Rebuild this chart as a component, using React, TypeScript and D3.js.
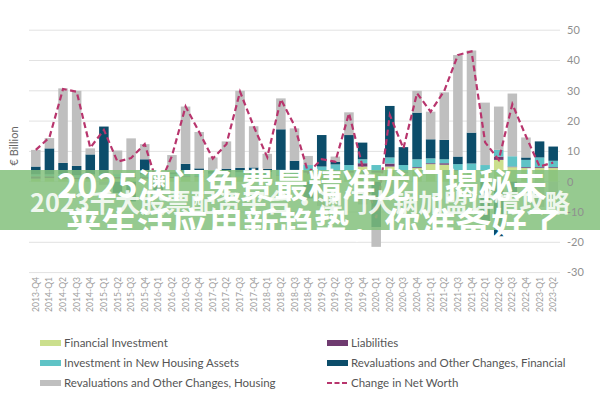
import React from "react";
import * as d3 from "d3";

const quarters = [
  "2013-Q4", "2014-Q1", "2014-Q2", "2014-Q3", "2014-Q4", "2015-Q1", "2015-Q2", "2015-Q3", "2015-Q4",
  "2016-Q1", "2016-Q2", "2016-Q3", "2016-Q4", "2017-Q1", "2017-Q2", "2017-Q3", "2017-Q4",
  "2018-Q1", "2018-Q2", "2018-Q3", "2018-Q4", "2019-Q1", "2019-Q2", "2019-Q3", "2019-Q4",
  "2020-Q1", "2020-Q2", "2020-Q3", "2020-Q4", "2021-Q1", "2021-Q2", "2021-Q3", "2021-Q4",
  "2022-Q1", "2022-Q2", "2022-Q3", "2022-Q4", "2023-Q1", "2023-Q2",
];

const financialInvestment = [
  1.0, 1.2, 1.0, 0.8, 1.0, 1.0, 1.0, 1.2, 1.0, 1.0, 1.2, 1.5, 1.5, 1.2, 1.5, 1.5, 1.5, 1.5, 2.0, 2.0,
  3.0, 2.5, 3.0, 3.0, 5.0, 3.0, 5.0, 2.8, 4.5, 5.8, 5.6, 3.5, 3.5, 2.5, 7.2, 4.8, 4.5, 4.5, 4.5,
];
const liabilities = [
  0.8, 0.6, 0.8, 0.6, 0.7, 0.5, 0.6, 0.4, 0.5, 0.4, 0.4, 0.3, 0.3, 0.2, 0.3, 0.2, 0.2, 0.1, 0.2, 0.1,
  0.5, 0.5, 0.5, 0.5, 1.1, 0.5, 1.0, 0.3, 0.3, 0.3, 0.5, 0.3, 0.3, 0.3, 1.1, 0.2, 0.3, 0.3, 0.3,
];
const investmentHousing = [
  0.6, 0.6, 0.7, 0.7, 0.7, 0.8, 0.9, 0.9, 0.9, 1.0, 1.0, 1.1, 1.1, 1.2, 1.3, 1.4, 1.5, 1.6, 1.7, 1.8,
  2.0, 2.0, 2.2, 2.0, 1.3, 2.0, 2.0, 2.4, 2.6, 1.6, 1.3, 2.0, 2.2, 2.7, 2.2, 3.4, 2.4, 3.2, 2.1,
];
const revalFinancial = [
  2.6, 8.6, 3.7, 3.1, 6.6, 15.9, -3.7, -6.5, 5.0, -5.0, 0.5, 3.0, 1.5, 1.0, 1.2, 1.5, 1.5, 1.0, 13.4, 3.0,
  -5.5, 10.4, 0.8, 9.9, 5.5, -15.0, 17.0, 5.9, 15.4, 6.3, 6.4, 2.5, 10.2, -13.0, -18.0, -3.5, 0.8, 5.3, 4.7,
];
const revalHousing = [
  5.5, 3.4, 24.6, 24.8, 2.0, -1.0, 7.8, 11.8, 5.0, 0.7, 5.7, 18.9, 12.0, 4.4, 9.0, 25.4, 13.6, 5.0, 10.2, 10.7,
  3.0, -8.0, 1.8, 7.5, -7.5, -6.5, -3.0, 0.0, 7.2, 9.1, 15.7, 33.5, 27.1, 20.6, 14.3, 20.7, 6.6, -8.3, -5.3,
];
const netWorthChange = [
  10.5, 14.6, 30.6, 29.7, 11.2, 17.1, 6.6, 7.8, 12.4, -1.9, 8.5, 24.8, 16.4, 7.6, 12.4, 29.7, 18.3, 8.1, 27.2, 18.5,
  3.0, 7.4, 6.6, 22.6, 5.0, -12.0, 22.0, 11.0, 29.2, 23.1, 30.0, 41.8, 43.0, 13.0, 7.2, 25.6, 15.0, 5.0, 6.3,
];

const yTicks = [50, 40, 30, 20, 10, 0, -10, -20, -30];

const seriesKeys = ["fi", "liab", "iha", "rf", "rh"];
const seriesNames = [
  "Financial Investment",
  "Liabilities",
  "Investment in New Housing Assets",
  "Revaluations and Other Changes, Financial",
  "Revaluations and Other Changes, Housing",
];
const seriesColors = ["#cbdf8d", "#6f3b70", "#5fc3c6", "#0c4d6a", "#bfbfbf"];
const lineName = "Change in Net Worth";
const lineColor = "#b8356d";

const bannerLine1 = "2025澳门免费最精准龙门揭秘未";
const bannerLine2 = "来生活应用新趋势，你准备好了";
const bannerMiddle = "2023千大股票配资平台·澳门大锅加盟详情攻略";

export default function App() {
  const W = 600;
  const H = 400;
  const x0 = 29;
  const x1 = 560;

  const x = d3.scaleBand<string>().domain(quarters).range([x0, x1]).paddingInner(0.3).paddingOuter(0.15);
  const y = d3.scaleLinear().domain([-30, 50]).range([272.6, 30.2]);

  const table = quarters.map((q, i) => ({
    q,
    fi: financialInvestment[i],
    liab: liabilities[i],
    iha: investmentHousing[i],
    rf: revalFinancial[i],
    rh: revalHousing[i],
  }));

  const stacked = d3
    .stack<any>()
    .keys(seriesKeys)
    .offset(d3.stackOffsetDiverging)(table);

  const line = d3
    .line<number>()
    .x((_, i) => (x(quarters[i]) as number) + x.bandwidth() / 2)
    .y((d) => y(d));

  const font = "Lato, 'Open Sans', sans-serif";
  const cjk = "'Noto Sans CJK SC', sans-serif";

  const legendItems = [
    { name: seriesNames[0], color: seriesColors[0], col: 0, row: 0 },
    { name: seriesNames[1], color: seriesColors[1], col: 1, row: 0 },
    { name: seriesNames[2], color: seriesColors[2], col: 0, row: 1 },
    { name: seriesNames[3], color: seriesColors[3], col: 1, row: 1 },
    { name: seriesNames[4], color: seriesColors[4], col: 0, row: 2 },
  ];
  const colX = [40, 327];
  const rowY = [343, 363, 383];

  return (
    <svg
      width={W}
      height={H}
      viewBox={`0 0 ${W} ${H}`}
      style={{ position: "absolute", left: 0, top: 0, background: "#fff" }}
    >
      <rect x={0} y={0} width={W} height={H} fill="#fff" />
      {/* gridlines */}
      {yTicks.map((t) => (
        <line key={t} x1={x0} x2={x1} y1={y(t)} y2={y(t)} stroke="#e2e2e2" strokeWidth={1} />
      ))}
      {/* bars */}
      {stacked.map((s, si) => (
        <g key={s.key} fill={seriesColors[si]}>
          {s.map((d, i) => {
            const top = y(Math.max(d[0], d[1]));
            const bot = y(Math.min(d[0], d[1]));
            if (bot - top <= 0) return null;
            return (
              <rect
                key={i}
                x={x(quarters[i]) as number}
                y={top}
                width={x.bandwidth()}
                height={bot - top}
              />
            );
          })}
        </g>
      ))}
      {/* net worth line */}
      <path
        d={line(netWorthChange) || ""}
        fill="none"
        stroke={lineColor}
        strokeWidth={2.2}
        strokeDasharray="6,3.5"
      />
      {/* y axis title */}
      <text
        transform={`translate(18, 146) rotate(-90)`}
        textAnchor="middle"
        fontFamily={font}
        fontSize={11}
        fill="#666"
      >
        € Billion
      </text>
      {/* x labels */}
      {quarters.map((q) => (
        <text
          key={q}
          transform={`translate(${(x(q) as number) + x.bandwidth() / 2}, 277) rotate(-90)`}
          textAnchor="end"
          dy="0.35em"
          fontFamily={font}
          fontSize={8.6}
          fill="#a0a0a0"
        >
          {q}
        </text>
      ))}
      {/* banner overlay */}
      <rect x={0} y={170} width={W} height={60} fill="#84c17c" opacity={0.85} />
      <text
        x={30}
        y={212}
        textLength={540}
        lengthAdjust="spacingAndGlyphs"
        fontFamily={cjk}
        fontWeight={700}
        fontSize={25}
        fill="#ffffff"
        opacity={0.85}
      >
        {bannerMiddle}
      </text>
      <text
        x={57}
        y={198}
        textLength={490}
        lengthAdjust="spacingAndGlyphs"
        fontFamily={cjk}
        fontWeight={700}
        fontSize={34}
        fill="#ffffff"
      >
        {bannerLine1}
      </text>
      <text
        x={66}
        y={237}
        textLength={496}
        lengthAdjust="spacingAndGlyphs"
        fontFamily={cjk}
        fontWeight={700}
        fontSize={34}
        fill="#ffffff"
      >
        {bannerLine2}
      </text>
      {/* y tick labels */}
      {yTicks.map((t) => (
        <text
          key={t}
          x={567}
          y={y(t)}
          dy="0.35em"
          fontFamily={font}
          fontSize={11}
          fill="#8f8f8f"
        >
          {t}
        </text>
      ))}
      {/* legend */}
      {legendItems.map((it) => (
        <g key={it.name}>
          <rect x={colX[it.col]} y={rowY[it.row] - 3} width={21} height={6} fill={it.color} />
          <text
            x={colX[it.col] + 24}
            y={rowY[it.row]}
            dy="0.35em"
            fontFamily={font}
            fontSize={11.5}
            fill="#555"
          >
            {it.name}
          </text>
        </g>
      ))}
      <line
        x1={colX[1]}
        x2={colX[1] + 21}
        y1={rowY[2]}
        y2={rowY[2]}
        stroke={lineColor}
        strokeWidth={2}
        strokeDasharray="5,2.5"
      />
      <text x={colX[1] + 24} y={rowY[2]} dy="0.35em" fontFamily={font} fontSize={11.5} fill="#555">
        {lineName}
      </text>
    </svg>
  );
}
